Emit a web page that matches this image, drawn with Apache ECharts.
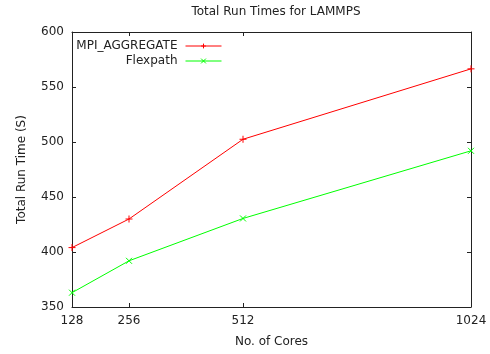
<!DOCTYPE html>
<html><head><meta charset="utf-8">
<script src="https://cdn.jsdelivr.net/npm/echarts@6/dist/echarts.min.js"></script>
<style>html,body{margin:0;padding:0;background:#fff}#c{width:490px;height:354px}</style>
</head><body><div id="c"></div>
<script>
const cores = [128, 256, 512, 1024];
const mpiAggregate = [404, 430, 502.5, 566.5];
const flexpath = [363, 392, 430.5, 492];
const yTicks = [350, 400, 450, 500, 550, 600];

const FONT = 'DejaVu Sans';
const plusPath = 'path://M5,0L5,10M0,5L10,5';
const crossPath = 'path://M0,0L10,10M0,10L10,0';

const chart = echarts.init(document.getElementById('c'), null, {renderer: 'canvas'});
const axisLine = {show: true, lineStyle: {color: '#222', width: 1}};
const tick = {show: true, inside: true, length: 4, lineStyle: {color: '#222', width: 1}};
const legendBase = {orient: 'vertical', align: 'right', right: 268, padding: 0,
  itemWidth: 36, itemHeight: 6,
  lineStyle: {width: 1}, itemStyle: {borderWidth: 1},
  textStyle: {fontFamily: FONT, fontSize: 12, color: '#222', padding: [0, 3, 0, 0]}};
chart.setOption({
  animation: false,
  backgroundColor: '#fff',
  title: {
    text: 'Total Run Times for LAMMPS', left: 271, top: 1, textAlign: 'center',
    textStyle: {fontFamily: FONT, fontSize: 12, fontWeight: 'normal', color: '#222'}
  },
  grid: {left: 72, right: 19, top: 32, bottom: 47, containLabel: false},
  legend: [
    Object.assign({data: ['MPI_AGGREGATE'], top: 40}, legendBase),
    Object.assign({data: ['Flexpath'], top: 55}, legendBase)
  ],
  xAxis: [
    {type: 'value', min: 128, max: 1024, position: 'bottom',
     name: 'No. of Cores', nameLocation: 'middle', nameGap: 29,
     nameTextStyle: {fontFamily: FONT, fontSize: 12, color: '#222'},
     axisLine: axisLine, splitLine: {show: false},
     axisTick: Object.assign({customValues: cores}, tick),
     axisLabel: {customValues: cores, formatter: v => String(v), fontFamily: FONT, fontSize: 12, color: '#222', margin: 8}},
    {type: 'value', min: 128, max: 1024, position: 'top',
     axisLine: axisLine, splitLine: {show: false},
     axisTick: Object.assign({customValues: cores}, tick),
     axisLabel: {show: false}}
  ],
  yAxis: [
    {type: 'value', min: 350, max: 600, position: 'left',
     name: 'Total Run Time (S)', nameLocation: 'middle', nameGap: 44, nameRotate: 90,
     nameTextStyle: {fontFamily: FONT, fontSize: 12, color: '#222'},
     axisLine: axisLine, splitLine: {show: false},
     axisTick: Object.assign({customValues: yTicks}, tick),
     axisLabel: {customValues: yTicks, fontFamily: FONT, fontSize: 12, color: '#222', margin: 8}},
    {type: 'value', min: 350, max: 600, position: 'right',
     axisLine: axisLine, splitLine: {show: false},
     axisTick: Object.assign({customValues: yTicks}, tick),
     axisLabel: {show: false}}
  ],
  series: [
    {name: 'MPI_AGGREGATE', type: 'line', data: cores.map((c, i) => [c, mpiAggregate[i]]),
     symbol: plusPath, symbolSize: 7, showSymbol: true,
     lineStyle: {color: '#ff0000', width: 1},
     itemStyle: {color: '#ff0000', borderColor: '#ff0000', borderWidth: 1}},
    {name: 'Flexpath', type: 'line', data: cores.map((c, i) => [c, flexpath[i]]),
     symbol: crossPath, symbolSize: 6, showSymbol: true,
     lineStyle: {color: '#00ff00', width: 1},
     itemStyle: {color: '#00ff00', borderColor: '#00ff00', borderWidth: 1}}
  ]
});
</script></body></html>
